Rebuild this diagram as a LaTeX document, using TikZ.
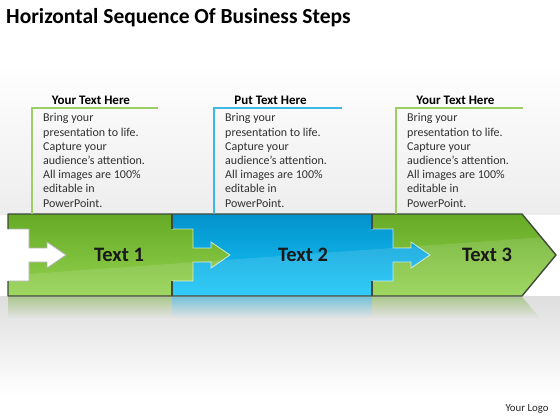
\documentclass[tikz,border=0pt]{standalone}
\usepackage{fontspec}
\setmainfont{Carlito}
\usetikzlibrary{fadings}
\tikzfading[name=fadedown, top color=transparent!40, bottom color=transparent!100]
\definecolor{gtop}{HTML}{66AA26}
\definecolor{gbot}{HTML}{93D24E}
\definecolor{btop}{HTML}{0392CC}
\definecolor{bbot}{HTML}{16C6F8}
\definecolor{edgec}{HTML}{3F4A3A}
\definecolor{txt}{HTML}{303030}
\definecolor{lgreen}{HTML}{9BCF63}
\definecolor{lblue}{HTML}{3DB7E4}
\newcommand\mytab[1]{-- (#1,229) -- ({#1+21},229) -- ({#1+21},248) -- ({#1+39},248) -- ({#1+39},242) -- ({#1+58},255) -- ({#1+39},268) -- ({#1+39},262) -- ({#1+21},262) -- ({#1+21},281) -- (#1,281)}
\begin{document}
\begin{tikzpicture}[x=1pt,y=-1pt,
  greenfill/.style={top color=gtop, bottom color=gbot},
  bluefill/.style={top color=btop, bottom color=bbot},
  head/.style={font=\fontsize{13}{15}\selectfont\bfseries, text=black, inner sep=0pt, anchor=base},
  body/.style={font=\fontsize{12}{14.2}\selectfont, text=txt, align=left, inner sep=0pt, anchor=north west},
  lbl/.style={font=\fontsize{20.5}{24}\selectfont\bfseries, text=black!90, inner sep=0pt},
  boxg/.style={draw=lgreen, line width=1.2pt},
  boxb/.style={draw=lblue, line width=1.2pt},
  glow/.style={draw=white, opacity=.7, line width=0.8pt}]
\useasboundingbox (0,0) rectangle (560,420);
% background
\fill[white] (0,0) rectangle (560,420);
\shade[top color=white, bottom color=black!7] (0,62) rectangle (560,214);
\shade[top color=black!13, bottom color=white] (0,296) rectangle (560,395);
\fill[white] (0,395) rectangle (560,420);
% reflection
\fill[gbot!70!gray, path fading=fadedown] (8,297) rectangle (172,318);
\fill[bbot!70!gray, path fading=fadedown] (172,297) rectangle (372,318);
\fill[gbot!70!gray, path fading=fadedown] (372,297) -- (522,297) -- (540,318) -- (372,318) -- cycle;
% pieces
\path[greenfill] (372,214) -- (522,214) -- (556,255) -- (522,296) -- (372,296) -- cycle;
\path[bluefill] (172,214) -- (372,214) \mytab{372} -- (372,296) -- (172,296) -- cycle;
\path[greenfill] (8,214) -- (172,214) \mytab{172} -- (172,296) -- (8,296) -- (8,281) -- (29,281) -- (29,262) -- (47,262) -- (47,268) -- (66,255) -- (47,242) -- (47,248) -- (29,248) -- (29,229) -- (8,229) -- cycle;
% gloss
\begin{scope}
\clip (8,214) -- (522,214) -- (556,255) -- (522,296) -- (8,296) -- cycle;
\fill[white, opacity=.12] (0,276) -- (560,236) -- (560,300) -- (0,300) -- cycle;
\end{scope}
% notch arrow (background)
\fill[white] (8,281) -- (29,281) -- (29,262) -- (47,262) -- (47,268) -- (66,255) -- (47,242) -- (47,248) -- (29,248) -- (29,229) -- (8,229) -- cycle;
% tab glows
\draw[glow] (172,229) -- (193,229) -- (193,248) -- (211,248) -- (211,242) -- (230,255) -- (211,268) -- (211,262) -- (193,262) -- (193,281) -- (172,281);
\draw[glow] (372,229) -- (393,229) -- (393,248) -- (411,248) -- (411,242) -- (430,255) -- (411,268) -- (411,262) -- (393,262) -- (393,281) -- (372,281);
\draw[draw=gray!60, line width=0.8pt] (8,281) -- (29,281) -- (29,262) -- (47,262) -- (47,268) -- (66,255) -- (47,242) -- (47,248) -- (29,248) -- (29,229) -- (8,229);
% outline
\draw[edgec, line width=1.4pt, line join=round] (8,229) -- (8,214) -- (522,214) -- (556,255) -- (522,296) -- (8,296) -- (8,281);
\draw[edgec, line width=1.1pt] (172,214) -- (172,229) (172,281) -- (172,296) (372,214) -- (372,229) (372,281) -- (372,296);
% labels
\node[lbl] (t1) at (119,255) {Text 1};
\node[lbl] (t2) at (303,255) {Text 2};
\node[lbl] (t3) at (487,255) {Text 3};
% text boxes
\draw[boxg] (158,108) -- (32,108) -- (32,214);
\draw[boxb] (342,108) -- (214,108) -- (214,214);
\draw[boxg] (523,108) -- (396,108) -- (396,214);
\node[head] (h1) at (91,104) {Your Text Here};
\node[head] (h2) at (270.5,104) {Put Text Here};
\node[head] (h3) at (455.5,104) {Your Text Here};
\node[body] (b1) at (43,113.5) {Bring your\\presentation to life.\\Capture your\\audience’s attention.\\All images are 100\%\\editable in\\PowerPoint.};
\node[body] (b2) at (225,113.5) {Bring your\\presentation to life.\\Capture your\\audience’s attention.\\All images are 100\%\\editable in\\PowerPoint.};
\node[body] (b3) at (407,113.5) {Bring your\\presentation to life.\\Capture your\\audience’s attention.\\All images are 100\%\\editable in\\PowerPoint.};
% title and logo
\node[font=\fontsize{21.5}{25}\selectfont\bfseries, inner sep=0pt, anchor=base west] (title) at (6,24) {Horizontal Sequence Of Business Steps};
\node[font=\fontsize{10.8}{13}\selectfont, text=black!85, inner sep=0pt, anchor=base] (logo) at (527,411) {Your Logo};
\end{tikzpicture}
\end{document}
